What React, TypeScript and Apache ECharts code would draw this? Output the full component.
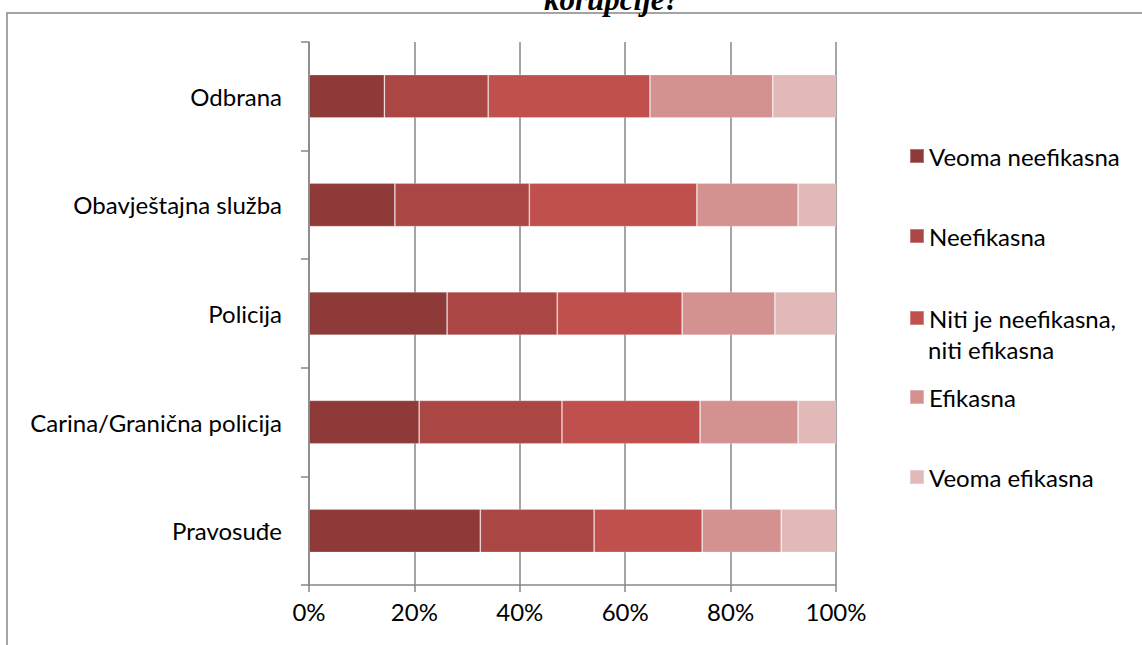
import React, { useEffect, useRef } from "react";
import * as echarts from "echarts";

const categories = ["Odbrana", "Obavještajna služba", "Policija", "Carina/Granična policija", "Pravosuđe"];
const seriesNames = ["Veoma neefikasna", "Neefikasna", "Niti je neefikasna, niti efikasna", "Efikasna", "Veoma efikasna"];
const veomaNeefikasna = [14.3, 16.3, 26.2, 20.9, 32.5];
const neefikasna = [19.7, 25.5, 20.9, 27.1, 21.6];
const niti = [30.7, 31.8, 23.7, 26.2, 20.5];
const efikasna = [23.3, 19.2, 17.6, 18.6, 15.0];
const veomaEfikasna = [12.0, 7.2, 11.6, 7.2, 10.4];
const xTicks = [0, 20, 40, 60, 80, 100];

const colors = ["#8E3A38", "#AA4745", "#C0504D", "#D39190", "#E1B9B9"];
const values = [veomaNeefikasna, neefikasna, niti, efikasna, veomaEfikasna];
const legendCenters = [156, 236, 318, 397, 477];

export default function App() {
  const ref = useRef<HTMLDivElement>(null);
  useEffect(() => {
    if (!ref.current) return;
    const chart = echarts.init(ref.current, null, { renderer: "svg" });
    const font = "Lato";
    const fs = 24;
    const gray = "#878787";
    const option: any = {
      animation: false,
      backgroundColor: "#ffffff",
      textStyle: { fontFamily: font },
      grid: { left: 309, top: 42, right: 306, bottom: 60, containLabel: false },
      xAxis: {
        type: "value",
        min: 0,
        max: 100,
        interval: 20,
        axisLine: { show: true, lineStyle: { color: gray, width: 1.5 } },
        axisTick: { show: true, length: 7, lineStyle: { color: gray, width: 1.5 } },
        splitLine: { show: true, lineStyle: { color: gray, width: 1.5 } },
        axisLabel: {
          formatter: (v: number) => (xTicks.includes(v) ? v + "%" : ""),
          fontFamily: font,
          fontSize: fs,
          color: "#000",
          margin: 14,
        },
      },
      yAxis: {
        type: "category",
        data: categories,
        inverse: true,
        axisLine: { show: true, lineStyle: { color: gray, width: 1.5 } },
        axisTick: { show: true, length: 8, lineStyle: { color: gray, width: 1.5 } },
        axisLabel: { fontFamily: font, fontSize: fs, color: "#000", margin: 27 },
      },
      legend: seriesNames.map((n, i) => ({
        data: [n],
        left: 909,
        top: legendCenters[i] - 12,
        orient: "vertical",
        icon: "rect",
        itemWidth: 14,
        itemHeight: 14,
        itemGap: 0,
        padding: 0,
        selectedMode: false,
        formatter: (name: string) => (name.startsWith("Niti") ? "Niti je neefikasna," : name),
        textStyle: { fontFamily: font, fontSize: fs, color: "#000", lineHeight: 24 },
      })),
      graphic: [
        {
          type: "rect",
          shape: { x: 7, y: 13, width: 1300, height: 800 },
          style: { fill: "none", stroke: gray, lineWidth: 1.5 },
          silent: true,
          z: -1,
        },
        {
          type: "text",
          x: 612,
          y: 15,
          style: {
            text: "korupcije?",
            fontFamily: "Liberation Serif",
            fontSize: 31,
            fontWeight: "bold",
            fontStyle: "italic",
            fill: "#000",
            align: "center",
            verticalAlign: "bottom",
            lineHeight: 31,
          },
        },
        {
          type: "text",
          x: 928,
          y: 349,
          style: {
            text: "niti efikasna",
            fontFamily: font,
            fontSize: fs,
            lineHeight: 24,
            fill: "#000",
            align: "left",
            verticalAlign: "middle",
          },
        },
      ],
      series: seriesNames.map((n, i) => ({
        name: n,
        type: "bar",
        stack: "total",
        barWidth: "40%",
        data: values[i],
        itemStyle: { color: colors[i], borderColor: "rgba(255,255,255,0.3)", borderWidth: 0.8 },
      })),
    };
    chart.setOption(option);
    return () => chart.dispose();
  }, []);
  return <div ref={ref} style={{ position: "absolute", left: 0, top: 0, width: 1142, height: 645 }} />;
}
